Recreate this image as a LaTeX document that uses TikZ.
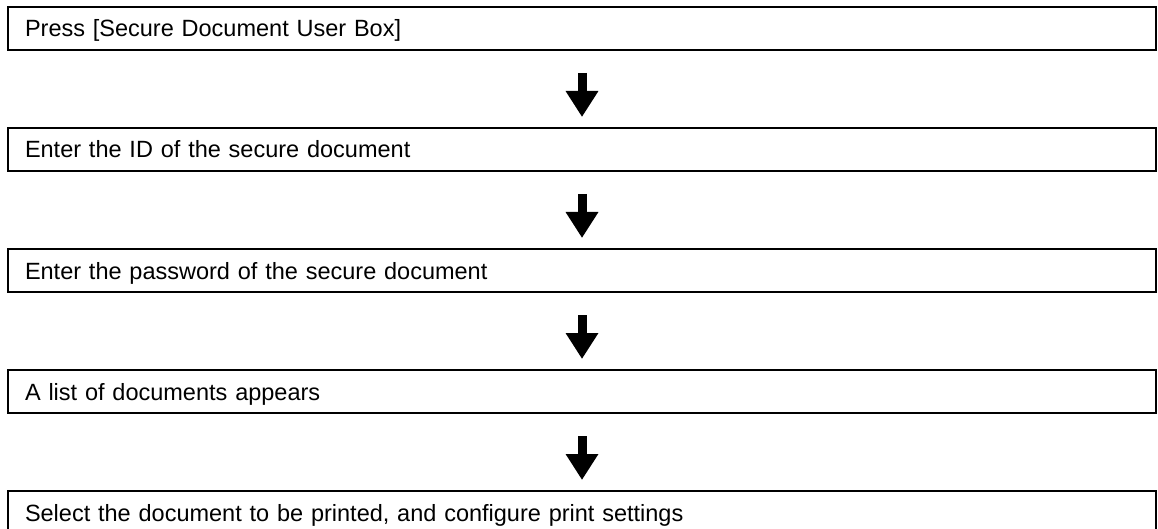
\documentclass[tikz,border=0pt]{standalone}
\usepackage{fontspec}
\setmainfont{Liberation Sans}
\usetikzlibrary{arrows.meta}
\begin{document}
\begin{tikzpicture}[x=1pt,y=-1pt,
  stepbox/.style={draw=black, line width=1.7pt, outer sep=0pt, minimum height=43pt,
    text width=1114pt, inner xsep=17pt, inner ysep=0pt, align=left,
    text height=17pt, text depth=0pt, font=\fontsize{23.5pt}{28pt}\selectfont,
    anchor=north west},
  blockarrow/.style={draw=black, line width=9pt, -{Triangle[length=26pt,width=31pt]},
    shorten <=23pt, shorten >=11pt}]
\useasboundingbox (0,0) rectangle (1158,529);
\node[stepbox] (s1) at (8,7) {Press [Secure Document User Box]};
\node[stepbox] (s2) at (8,128) {Enter the ID of the secure document};
\node[stepbox] (s3) at (8,249) {Enter the password of the secure document};
\node[stepbox] (s4) at (8,370) {A list of documents appears};
\node[stepbox] (s5) at (8,491) {Select the document to be printed, and configure print settings};
\draw[blockarrow] (s1.south) -- (s2.north);
\draw[blockarrow] (s2.south) -- (s3.north);
\draw[blockarrow] (s3.south) -- (s4.north);
\draw[blockarrow] (s4.south) -- (s5.north);
\end{tikzpicture}
\end{document}
